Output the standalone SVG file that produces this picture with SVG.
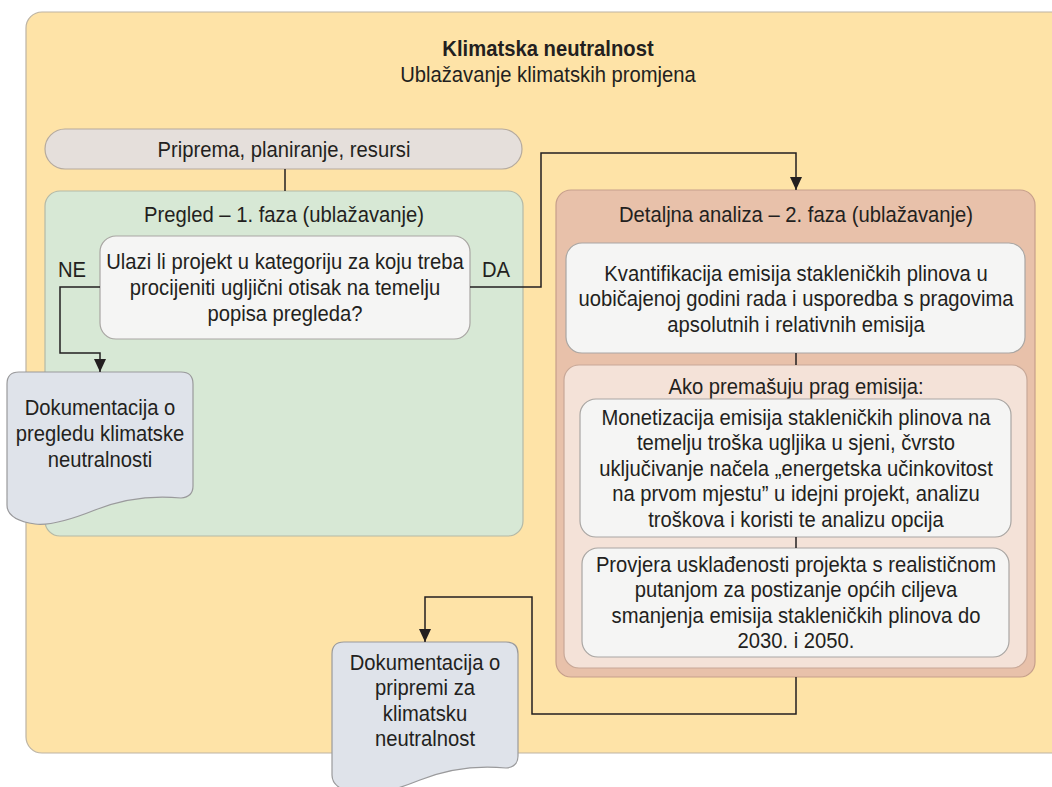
<svg xmlns="http://www.w3.org/2000/svg" width="1052" height="787" viewBox="0 0 1052 787">
<defs>
<style>
text{font-family:"Liberation Sans",Arial,sans-serif;font-size:22px;fill:#231f20;text-anchor:middle}
.b{font-weight:bold}
.conn{fill:none;stroke:#231f20;stroke-width:1.5}
.white{fill:#f5f5f4;stroke:#a9a6a3;stroke-width:1.2}
.doc{fill:#dfe3ea;stroke:#9a9a9c;stroke-width:1.2}
</style>
<marker id="arr" viewBox="0 0 13 12" refX="13" refY="6" markerWidth="13" markerHeight="12" markerUnits="userSpaceOnUse" orient="auto">
<path d="M0,0 L13,6 L0,12 Z" fill="#231f20"/>
</marker>
</defs>
<rect width="1052" height="787" fill="#ffffff"/>
<g id="outer">
<rect x="26" y="12" width="1060" height="741" rx="16" fill="#fee3a7" stroke="#bdb4a4" stroke-width="1.2"/>
<g transform="matrix(0.92 0 0 1 548 0)">
<text x="0" y="56" class="b">Klimatska neutralnost</text>
<text x="0" y="82">Ublažavanje klimatskih promjena</text>
</g>
</g>
<g id="priprema">
<rect x="45" y="129" width="477" height="40" rx="20" fill="#e5dfdb" stroke="#b5aa9e" stroke-width="1.2"/>
<text x="0" y="157" transform="matrix(0.92 0 0 1 284 0)">Priprema, planiranje, resursi</text>
</g>
<g id="faza1">
<rect x="45" y="191" width="478" height="345" rx="15" fill="#d7e8d5" stroke="#b3b9a8" stroke-width="1.2"/>
<text x="0" y="222" transform="matrix(0.92 0 0 1 284 0)">Pregled – 1. faza (ublažavanje)</text>
</g>
<g id="pitanje">
<rect x="100" y="236" width="370" height="103" rx="16" class="white"/>
<g transform="matrix(0.92 0 0 1 285 0)">
<text x="0" y="269">Ulazi li projekt u kategoriju za koju treba</text>
<text x="0" y="295">procijeniti ugljični otisak na temelju</text>
<text x="0" y="321">popisa pregleda?</text>
</g>
</g>
<g id="faza2">
<rect x="556" y="190" width="479" height="487" rx="15" fill="#e8c1aa" stroke="#c69f8b" stroke-width="1.2"/>
<text x="0" y="222" transform="matrix(0.92 0 0 1 796 0)">Detaljna analiza – 2. faza (ublažavanje)</text>
</g>
<g id="kvantifikacija">
<rect x="566" y="243" width="459" height="110" rx="16" class="white"/>
<g transform="matrix(0.92 0 0 1 796 0)">
<text x="0" y="281">Kvantifikacija emisija stakleničkih plinova u</text>
<text x="0" y="306.5">uobičajenoj godini rada i usporedba s pragovima</text>
<text x="0" y="332">apsolutnih i relativnih emisija</text>
</g>
</g>
<g id="prag">
<rect x="564" y="365" width="463" height="303" rx="15" fill="#f4e2d8" stroke="#c7a898" stroke-width="1.2"/>
<text x="0" y="394" transform="matrix(0.92 0 0 1 796 0)">Ako premašuju prag emisija:</text>
</g>
<g id="monetizacija">
<rect x="580" y="399" width="431" height="138" rx="16" class="white"/>
<g transform="matrix(0.92 0 0 1 796 0)">
<text x="0" y="425">Monetizacija emisija stakleničkih plinova na</text>
<text x="0" y="450.5">temelju troška ugljika u sjeni, čvrsto</text>
<text x="0" y="476">uključivanje načela „energetska učinkovitost</text>
<text x="0" y="501.5">na prvom mjestu” u idejni projekt, analizu</text>
<text x="0" y="527">troškova i koristi te analizu opcija</text>
</g>
</g>
<g id="provjera">
<rect x="582" y="548" width="427" height="109" rx="16" class="white"/>
<g transform="matrix(0.92 0 0 1 796 0)">
<text x="0" y="572">Provjera usklađenosti projekta s realističnom</text>
<text x="0" y="597.5">putanjom za postizanje općih ciljeva</text>
<text x="0" y="623">smanjenja emisija stakleničkih plinova do</text>
<text x="0" y="648.5">2030. i 2050.</text>
</g>
</g>
<g id="doc1">
<path class="doc" d="M19,372 H181 Q193,372 193,384 V486 Q193,497 181,498 C150,495 120,500 95,510 C70,520 50,526 35,524 Q7,520 7,505 V384 Q7,372 19,372 Z"/>
<g transform="matrix(0.92 0 0 1 100 0)">
<text x="0" y="415">Dokumentacija o</text>
<text x="0" y="441">pregledu klimatske</text>
<text x="0" y="467">neutralnosti</text>
</g>
</g>
<g id="doc2">
<path class="doc" d="M344,642 H506 Q518,642 518,654 V756 Q518,767 506,768 C475,765 445,770 420,780 C395,790 375,796 360,794 Q332,790 332,775 V654 Q332,642 344,642 Z"/>
<g transform="matrix(0.92 0 0 1 425 0)">
<text x="0" y="670">Dokumentacija o</text>
<text x="0" y="695.5">pripremi za</text>
<text x="0" y="721">klimatsku</text>
<text x="0" y="746.5">neutralnost</text>
</g>
</g>
<g id="labels">
<text x="0" y="277" transform="matrix(0.92 0 0 1 72 0)">NE</text>
<text x="0" y="277" transform="matrix(0.92 0 0 1 496 0)">DA</text>
</g>
<g id="connectors">
<path class="conn" d="M100,287 H60 V353 H100 V372" marker-end="url(#arr)"/>
<path class="conn" d="M285,169 V191"/>
<path class="conn" d="M470,287 H541 V153 H796 V190" marker-end="url(#arr)"/>
<path class="conn" d="M796,353 V365"/>
<path class="conn" d="M796,537 V548"/>
<path class="conn" d="M796,677 V714 H532 V597 H425 V642" marker-end="url(#arr)"/>
</g>
</svg>
